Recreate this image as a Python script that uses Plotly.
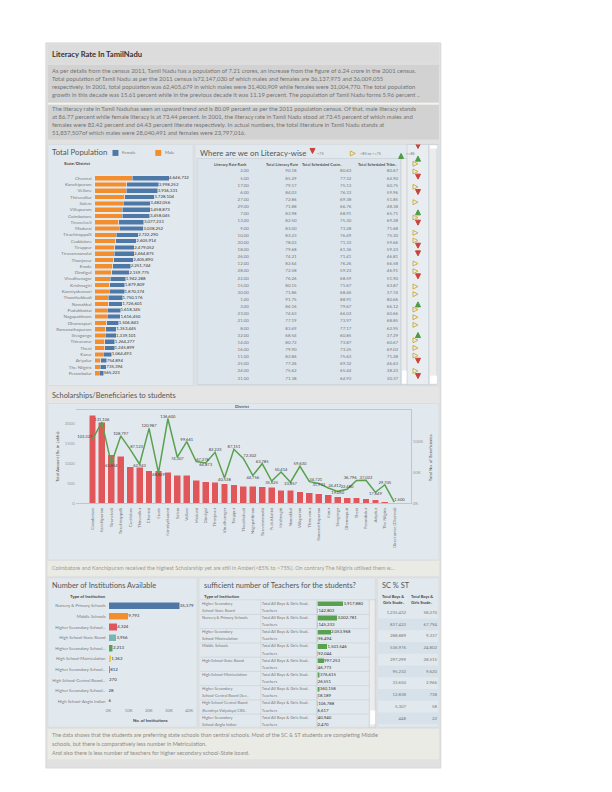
import plotly.graph_objects as go

W, H = 612, 792
def PX(x): return x / W
def PY(y): return 1 - y / H

FONT = "Lato"

# ---------------- DATA ----------------
intro_title = "Literacy Rate In TamilNadu"
para1_lines = [
    "As per details from the census 2011, Tamil Nadu has a population of 7.21 crores, an increase from the figure of 6.24 crore in the 2001 census.",
    "Total population of Tamil Nadu as per the 2011 census is72,147,030 of which males and females are 36,137,975 and 36,009,055",
    "respectively. In 2001, total population was 62,405,679 in which males were 31,400,909 while females were 31,004,770. The total population",
    "growth in this decade was 15.61 percent while in the previous decade it was 11.19 percent. The population of Tamil Nadu forms 5.96 percent ..",
]
para2_lines = [
    "The literacy rate in Tamil Naduhas seen an upward trend and is 80.09 percent as per the 2011 population census. Of that, male literacy stands",
    "at 86.77 percent while female literacy is at 73.44 percent. In 2001, the literacy rate in Tamil Nadu stood at 73.45 percent of which males and",
    "females were 82.42 percent and 64.43 percent literate respectively. In actual numbers, the total literature in Tamil Nadu stands at",
    "51,837,507of which males were 28,040,491 and females were 23,797,016.",
]

pop_districts = ["Chennai", "Kanchipuram", "Vellore", "Thiruvallur", "Salem", "Villupuram", "Coimbatore",
                 "Tirunelveli", "Madurai", "Tiruchirappalli", "Cuddalore", "Tiruppur", "Tiruvannamalai",
                 "Thanjavur", "Erode", "Dindigul", "Virudhunagar", "Krishnagiri", "Kanniyakumari",
                 "Thoothukkudi", "Namakkal", "Pudukkottai", "Nagapattinam", "Dharmapuri", "Ramanathapuram",
                 "Sivaganga", "Thiruvarur", "Theni", "Karur", "Ariyalur", "The Nilgiris", "Perambalur"]
pop_male = [2335844, 2012958, 1961688, 1876062, 1781571, 1740819, 1729297, 1520912, 1526475, 1352284,
            1311697, 1246159, 1235889, 1182416, 1129868, 1080938, 970368, 960232, 926800, 859101,
            869280, 803188, 798127, 774303, 682658, 668672, 626693, 625683, 528184, 374703, 360143, 282157]
pop_female = [2310888, 1985294, 1974643, 1852042, 1700485, 1718054, 1728748, 1556321, 1511777, 1370006,
              1294217, 1232893, 1228986, 1223474, 1121876, 1078837, 971920, 919577, 943574, 891075,
              857321, 815157, 818323, 732540, 670787, 670429, 637584, 620216, 536309, 380191, 375251, 283066]

lit_headers = ["Literacy Rate Rank", "Total Literacy Rate", "Total Scheduled Caste..", "Total Scheduled Tribe.."]
lit_rank = [2, 5, 17, 6, 27, 29, 7, 13, 9, 10, 20, 18, 26, 12, 28, 22, 15, 30, 1, 3, 23, 21, 8, 32, 14, 16,
            11, 25, 24, 31, 4, 19]
lit_total = [90.18, 85.29, 79.17, 84.03, 72.86, 71.88, 83.98, 82.50, 83.00, 83.23, 78.03, 79.68, 74.21, 82.64,
             72.58, 76.26, 80.15, 71.86, 91.75, 86.16, 74.63, 77.19, 83.69, 68.54, 80.72, 79.90, 82.86, 77.26,
             75.62, 71.38, 85.20, 78.10]
lit_sc = [80.63, 77.32, 75.13, 76.33, 69.38, 66.76, 68.91, 75.30, 73.28, 76.49, 71.33, 61.36, 71.41, 76.26,
          59.23, 68.59, 71.67, 68.46, 88.91, 79.67, 66.03, 73.97, 77.17, 60.85, 73.87, 73.25, 75.63, 69.32,
          65.44, 64.93, 77.56, 70.12]
lit_st = [80.67, 64.90, 60.75, 59.96, 51.85, 48.38, 65.71, 69.28, 71.68, 75.30, 59.66, 59.23, 46.81, 66.58,
          46.91, 51.90, 63.87, 37.74, 80.66, 66.12, 60.66, 68.85, 62.95, 37.29, 60.67, 69.03, 71.28, 46.63,
          38.23, 30.37, 61.23, 55.40]
lit_bands = ["<75", "<85 to >=75", ">=85"]
lit_arrows = ["<75", ">=85", "<85 to >=75", "<85 to >=75", "<75", "<85 to >=75", "<75", "<85 to >=75",
              ">=85", "<85 to >=75", "<75", "<85 to >=75", "<85 to >=75", "<75", "<75", "<85 to >=75",
              "<85 to >=75", "<75", "<85 to >=75", "<85 to >=75", ">=85", "<85 to >=75", "<85 to >=75",
              "<85 to >=75", ">=85", "<85 to >=75", "<85 to >=75", "<85 to >=75", "<75", "<85 to >=75", "<75"]

sch_districts = ["Coimbatore", "Kanchipuram", "Tirunelveli", "Tiruchirappalli", "Cuddalore", "Thiruvallur",
                 "Chennai", "Erode", "Kanniyakumari", "Salem", "Vellore", "Madurai", "Dindigul", "Thanjavur",
                 "Virudhunagar", "Tiruppur", "Thoothukudi", "Nagapattinam", "Tiruvannamalai", "Pudukkottai",
                 "Krishnagiri", "Namakkal", "Villupuram", "Thiruvarur", "Ramanathapuram", "Karur", "Sivaganga",
                 "Dharmapuri", "Theni", "Perambalur", "Ariyalur", "The Nilgiris", "Directorate (Chennai)"]
sch_amount = [2205, 2030, 1210, 1180, 915, 905, 812, 808, 780, 705, 700, 580, 532, 528, 486, 455, 428, 422,
              405, 398, 322, 318, 285, 262, 236, 204, 160, 136, 133, 110, 85, 35, 6]
sch_benef = [103327, 131106, 63854, 108797, 87123, 62943, 120987, 48849, 136600, 74307, 99661, 67276, 64873,
             82223, 40538, 87151, 72302, 44756, 63785, 35625, 50414, 33857, 59630, 34721, 31933, 24412, 19050,
             22480, 36796, 37022, 17649, 29705, 1500]
sch_caption = ("Coimbatore and Kanchipuram received the highest Scholarship yet are still in Amber(&lt;85% to &gt;75%). "
               "On contrary The Nilgiris utilised them w...")

inst_labels = ["Nursery & Primary Schools", "Middle Schools", "Higher Secondary School...", "High School-State Board",
               "Higher Secondary School...", "High School-Matriculation", "Higher Secondary School...",
               "High School-Central Board...", "Higher Secondary School...", "High School-Anglo Indian"]
inst_counts = [35379, 9793, 4324, 3956, 2213, 1362, 812, 270, 28, 6]
inst_ticks = [0, 10000, 20000, 30000, 40000]
inst_ticktext = ["0K", "10K", "20K", "30K", "40K"]

teach_type_lines = [["Higher Secondary", "School-State Board"], ["Nursery & Primary Schools"],
                    ["Higher Secondary", "School-Matriculation"], ["Middle Schools"], ["High School-State Board"],
                    ["High School-Matriculation"], ["Higher Secondary", "School-Central Board (Sec.."],
                    ["High School-Central Board", "(Kendriya Vidyalaya) CBS.."], ["Higher Secondary", "School-Anglo Indian"]]
teach_measures = ["Total All Boys & Girls Stud..", "Teachers"]
teach_students = [3917880, 3002781, 2053968, 1501546, 997253, 376615, 360158, 106788, 40940]
teach_teachers = [142803, 145233, 96494, 92044, 46773, 26551, 18189, 6617, 2470]

scst_headers = [["Total Boys &", "Girls Stude.."], ["Total Boys &", "Girls Stude.."]]
scst_sc = [1235432, 837422, 288889, 536976, 297299, 95232, 33650, 12838, 5307, 448]
scst_st = [58270, 67794, 9337, 24802, 28515, 9620, 2966, 738, 58, 22]

footer_lines = [
    "The data shows that the students are preferring state schools than central schools. Most of the SC & ST students are completing Middle",
    "schools, but there is comparatively less number in Metriculation.",
    "And also there is less number of teachers for higher secondary school-State board.",
]

# ---------------- STYLE ----------------
C_BLUE, C_ORANGE, C_RED, C_GREEN = "#4e79a7", "#f28e2b", "#e15759", "#59a14f"
inst_colors = ["#4e79a7", "#f28e2b", "#e15759", "#76b7b2", "#59a14f", "#edc948", "#b07aa1", "#ff9da7",
               "#9c755f", "#bab0ac"]
band_symbol = {"<75": "arrow-down", "<85 to >=75": "arrow-right-open", ">=85": "arrow-up"}
band_color = {"<75": "#c9433b", "<85 to >=75": "#d3ae45", ">=85": "#4f9a45"}
PANEL = "#e2e9ee"
TXT = "#777777"

fig = go.Figure()
shapes = []
def rect(x0, y0, x1, y1, fill, line=None, width=0.6):
    shapes.append(dict(type="rect", xref="paper", yref="paper", x0=PX(x0), x1=PX(x1), y0=PY(y1), y1=PY(y0),
                       fillcolor=fill, line=dict(color=line or fill, width=width if line else 0), layer="below"))
def hline(x0, x1, y, color="#c9d2d8", width=0.6):
    shapes.append(dict(type="line", xref="paper", yref="paper", x0=PX(x0), x1=PX(x1), y0=PY(y), y1=PY(y),
                       line=dict(color=color, width=width), layer="above"))
def vline(x, y0, y1, color="#c9d2d8", width=0.6):
    shapes.append(dict(type="line", xref="paper", yref="paper", x0=PX(x), x1=PX(x), y0=PY(y0), y1=PY(y1),
                       line=dict(color=color, width=width), layer="above"))
def txt(x, y, s, size=5, color=TXT, anchor="left", bold=False, angle=0):
    fig.add_annotation(x=PX(x), y=PY(y), xref="paper", yref="paper", text=("<b>%s</b>" % s) if bold else s,
                       showarrow=False, xanchor=anchor, yanchor="middle", textangle=angle,
                       font=dict(family=FONT, size=size, color=color), borderpad=0)
def row_range(top_px, bottom_px, first_px, step):
    return [(bottom_px - first_px) / step, (top_px - first_px) / step]

# ---------------- BACKGROUNDS ----------------
rect(35, 35, 432, 763, "#e1e1e1", "#cccccc")
rect(37, 37, 430, 56, "#dcdcdc")
rect(37, 57, 430, 95, "#d2d2d2")
rect(37, 95, 430, 97, "#f4f4ef")
rect(37, 97, 430, 132, "#d2d2d2")
rect(37, 137, 183, 379, PANEL, "#d0d7dc")
rect(185, 137, 430, 379, PANEL, "#d0d7dc")
rect(187, 151, 392, 378, "#dce5ec", "#c3cbd1")
rect(392, 151, 398, 378, "#ececec", "#c3cbd1")
rect(393, 364, 398, 377, "#ffffff")
rect(398, 137, 420, 378, "#e7edf1", "#c3cbd1")
rect(420, 137, 428, 378, "#ececec", "#c3cbd1")
rect(421, 138, 428, 141, "#ffffff")
rect(421, 369, 428, 377, "#ffffff")
rect(37, 380, 430, 397, "#e5e5e5")
rect(37, 397, 430, 554, PANEL, "#d0d7dc")
rect(37, 555, 430, 570, "#ebebe6")
rect(37, 572, 187, 722, PANEL, "#d0d7dc")
rect(189, 572, 366, 722, PANEL, "#d0d7dc")
rect(360, 594, 366, 722, "#ececec", "#c3cbd1")
rect(361, 705, 366, 719, "#ffffff")
rect(368, 572, 430, 722, PANEL, "#d0d7dc")
rect(37, 724, 430, 754, "#ebebe6")

# ---------------- HEADER TEXT ----------------
txt(40, 46.5, intro_title, size=7.6, color="#333333", bold=True)
for i, s in enumerate(para1_lines):
    txt(40, 63 + 8 * i, s, size=5.9, color="#737373")
for i, s in enumerate(para2_lines):
    txt(40, 101 + 8 * i, s, size=5.9, color="#737373")

# ---------------- TOTAL POPULATION ----------------
pop_total = [m + f for m, f in zip(pop_male, pop_female)]
fig.add_trace(go.Bar(y=pop_districts, x=pop_male, orientation="h", marker_color=C_ORANGE, width=0.74,
                     xaxis="x", yaxis="y", hoverinfo="skip"))
fig.add_trace(go.Bar(y=pop_districts, x=pop_female, orientation="h", marker_color=C_BLUE, width=0.74,
                     xaxis="x", yaxis="y", hoverinfo="skip"))
fig.add_trace(go.Scatter(y=pop_districts, x=pop_total, mode="text", text=[format(v, ",") for v in pop_total],
                         textposition="middle right", textfont=dict(family=FONT, size=4.4, color="#333"),
                         cliponaxis=False, xaxis="x", yaxis="y", hoverinfo="skip"))
txt(40, 145, "Total Population", size=7.8, color="#555555")
rect(102, 142.5, 108, 148.5, C_BLUE)
txt(111, 145.5, "Female", size=4.3, color=TXT)
rect(145, 142.5, 151, 148.5, C_ORANGE)
txt(154, 145.5, "Male", size=4.3, color=TXT)
txt(66, 156, "State/District", size=4.3, color="#444", anchor="center", bold=True)

# ---------------- LITERACY TABLE ----------------
lit_cols = [["%.2f" % v for v in lit_rank], ["%.2f" % v for v in lit_total],
            ["%.2f" % v for v in lit_sc], ["%.2f" % v for v in lit_st]]
col_right = [239, 287, 342, 389]
for c, vals in enumerate(lit_cols):
    fig.add_trace(go.Scatter(x=[col_right[c]] * len(vals), y=list(range(len(vals))), mode="text", text=vals,
                             textposition="middle left", textfont=dict(family=FONT, size=4.4, color="#777"),
                             xaxis="x2", yaxis="y2", hoverinfo="skip", cliponaxis=True))
hdr_right = [238, 289, 334, 389]
for c, h in enumerate(lit_headers):
    txt(hdr_right[c], 157, h, size=3.9, color="#555", anchor="right", bold=True)
txt(189, 146, "Where are we on Literacy-wise", size=7.8, color="#555555")

fig.add_trace(go.Scatter(x=[0.5] * len(lit_arrows), y=list(range(len(lit_arrows))), mode="markers",
                         marker=dict(symbol=[band_symbol[a] for a in lit_arrows],
                                     color=[band_color[a] for a in lit_arrows], size=5,
                                     line=dict(width=1, color=[band_color[a] for a in lit_arrows])),
                         xaxis="x3", yaxis="y3", hoverinfo="skip"))
leg_x = [303, 346, 392]
leg_tx = [307, 350, 396]
leg_text = ["&lt;75", "&lt;85 to &gt;=75", "&gt;=85"]
fig.add_trace(go.Scatter(x=leg_x, y=[146, 146, 146], mode="markers",
                         marker=dict(symbol=[band_symbol[b] for b in lit_bands],
                                     color=[band_color[b] for b in lit_bands], size=5,
                                     line=dict(width=1, color=[band_color[b] for b in lit_bands])),
                         xaxis="x10", yaxis="y10", hoverinfo="skip"))
for xx, s in zip(leg_tx, leg_text):
    txt(xx, 146.5, s, size=3.8, color=TXT)

# ---------------- SCHOLARSHIPS ----------------
SCH_X0, SCH_X1, SCH_Y0, SCH_Y1, SCH_RMAX = 65, 402, 497, 404, 150000
n = len(sch_benef)
step = (SCH_X1 - SCH_X0) / n
lab_txt = [format(v, ",") for v in sch_benef]
offsets = {"top center": (0, -5), "bottom center": (0, 5), "top right": (7, -5), "top left": (-7, -5),
           "bottom right": (7, 5), "bottom left": (-7, 5)}
placed = []
tpos = []
for i, v in enumerate(sch_benef):
    pv = sch_benef[i - 1] if i > 0 else None
    nv = sch_benef[i + 1] if i < n - 1 else None
    up_prev = pv is None or v >= pv
    up_next = nv is None or v >= nv
    if up_prev and up_next:
        pref = "top center"
    elif not up_prev and not up_next:
        pref = "bottom center"
    elif not up_prev and up_next:
        pref = "top right"
    else:
        pref = "top left"
    order = [pref] + [p for p in ["bottom center", "top center", "bottom right", "bottom left", "top right",
                                  "top left"] if p != pref]
    cx = SCH_X0 + (i + 0.5) * step
    cy = SCH_Y0 - v / SCH_RMAX * (SCH_Y0 - SCH_Y1)
    w = len(lab_txt[i]) * 2.1
    chosen = None
    for p in order:
        dx, dy = offsets[p]
        box = (cx + dx - w / 2, cy + dy - 2.5, cx + dx + w / 2, cy + dy + 2.5)
        if all(box[2] < b[0] or box[0] > b[2] or box[3] < b[1] or box[1] > b[3] for b in placed):
            chosen = (p, box)
            break
    if chosen is None:
        dx, dy = offsets[pref]
        chosen = (pref, (cx + dx - w / 2, cy + dy - 2.5, cx + dx + w / 2, cy + dy + 2.5))
    tpos.append(chosen[0])
    placed.append(chosen[1])

fig.add_trace(go.Bar(x=sch_districts, y=sch_amount, marker_color=C_RED, width=0.72, xaxis="x4", yaxis="y4",
                     hoverinfo="skip"))
fig.add_trace(go.Scatter(x=sch_districts, y=sch_benef, mode="lines+text", line=dict(color=C_GREEN, width=1.5),
                         text=lab_txt, textposition=tpos,
                         textfont=dict(family=FONT, size=4.1, color="#444"), cliponaxis=False,
                         xaxis="x4", yaxis="y5", hoverinfo="skip"))
txt(40, 388.5, "Scholarships/Beneficiaries to students", size=7.4, color="#555555")
txt(233, 400.5, "District", size=4.3, color="#555", anchor="center", bold=True)
txt(47, 451, "Total Amount (Rs. in Lakhs)", size=4.3, color="#555", anchor="center", angle=-90)
txt(421, 451, "Total No. of Beneficiaries", size=4.3, color="#555", anchor="center", angle=-90)
txt(40, 562.5, sch_caption, size=5.5, color="#9a9a9a")

# ---------------- INSTITUTIONS ----------------
fig.add_trace(go.Bar(y=list(range(len(inst_counts))), x=inst_counts, orientation="h", width=0.68,
                     marker_color=inst_colors, xaxis="x6", yaxis="y6", hoverinfo="skip"))
fig.add_trace(go.Scatter(y=list(range(len(inst_counts))), x=inst_counts, mode="text",
                         text=[format(v, ",") for v in inst_counts], textposition="middle right",
                         textfont=dict(family=FONT, size=4.4, color="#333"), cliponaxis=False,
                         xaxis="x6", yaxis="y6", hoverinfo="skip"))
txt(40, 580, "Number of Institutions Available", size=7.4, color="#555555")
txt(77, 590.5, "Type of Institution", size=4.3, color="#444", anchor="center", bold=True)
txt(140, 715, "No. of Institutions", size=4.3, color="#444", anchor="center", bold=True)

# ---------------- TEACHERS ----------------
ng = len(teach_students)
stu_rows = [2 * g for g in range(ng)]
tea_rows = [2 * g + 1 for g in range(ng)]
fig.add_trace(go.Bar(y=stu_rows, x=teach_students, orientation="h", width=0.74, marker_color=C_GREEN,
                     xaxis="x7", yaxis="y7", hoverinfo="skip"))
fig.add_trace(go.Bar(y=tea_rows, x=teach_teachers, orientation="h", width=0.74, marker_color=C_RED,
                     xaxis="x7", yaxis="y7", hoverinfo="skip"))
fig.add_trace(go.Scatter(y=stu_rows + tea_rows, x=teach_students + teach_teachers, mode="text",
                         text=[format(v, ",") for v in teach_students + teach_teachers],
                         textposition="middle right", textfont=dict(family=FONT, size=4.3, color="#333"),
                         cliponaxis=True, xaxis="x7", yaxis="y7", hoverinfo="skip"))
type_x, type_y, type_t = [], [], []
for g, lines in enumerate(teach_type_lines):
    for k, s in enumerate(lines):
        type_x.append(192)
        type_y.append(2 * g + k)
        type_t.append(s)
fig.add_trace(go.Scatter(x=type_x, y=type_y, mode="text", text=type_t, textposition="middle right",
                         textfont=dict(family=FONT, size=3.9, color="#777"), xaxis="x8", yaxis="y8",
                         hoverinfo="skip", cliponaxis=True))
meas_y = [r for g in range(ng) for r in (2 * g, 2 * g + 1)]
meas_t = [teach_measures[r % 2] for r in meas_y]
fig.add_trace(go.Scatter(x=[252] * len(meas_y), y=meas_y, mode="text", text=meas_t, textposition="middle right",
                         textfont=dict(family=FONT, size=4.0, color="#777"), xaxis="x8", yaxis="y8",
                         hoverinfo="skip", cliponaxis=True))
for g in range(1, ng):
    shapes.append(dict(type="line", xref="x8", yref="y8", x0=190, x1=360, y0=2 * g - 0.5, y1=2 * g - 0.5,
                       line=dict(color="#c5ced5", width=0.6), layer="above"))
vline(251, 594, 722)
vline(307, 594, 722)
hline(189, 360, 594)
txt(193, 580, "sufficient number of Teachers for the students?", size=7.4, color="#555555")
txt(193, 590.5, "Type of Institution", size=4.3, color="#444", bold=True)

# ---------------- SC % ST ----------------
for r in range(len(scst_sc)):
    if r % 2 == 1:
        shapes.append(dict(type="rect", xref="paper", yref="y9", x0=PX(368), x1=PX(430), y0=r - 0.5, y1=r + 0.5,
                           fillcolor="#d7e1e9", line=dict(width=0), layer="below"))
fig.add_trace(go.Scatter(x=[397] * len(scst_sc), y=list(range(len(scst_sc))), mode="text",
                         text=[format(v, ",") for v in scst_sc], textposition="middle left",
                         textfont=dict(family=FONT, size=4.3, color="#777"), xaxis="x9", yaxis="y9", hoverinfo="skip"))
fig.add_trace(go.Scatter(x=[428] * len(scst_st), y=list(range(len(scst_st))), mode="text",
                         text=[format(v, ",") for v in scst_st], textposition="middle left",
                         textfont=dict(family=FONT, size=4.3, color="#777"), xaxis="x9", yaxis="y9", hoverinfo="skip"))
txt(372, 580, "SC % ST", size=7.4, color="#555555")
for cx, hl in zip([384, 413], scst_headers):
    for k, s in enumerate(hl):
        txt(cx, 591 + 6 * k, s, size=4.0, color="#444", anchor="center", bold=True)

for i, s in enumerate(footer_lines):
    txt(40, 730 + 9 * i, s, size=5.5, color="#8a8a8a")

# ---------------- AXES ----------------
def hid(domain, rng, anchor):
    return dict(domain=domain, range=rng, visible=False, fixedrange=True, anchor=anchor)

lay = dict(
    width=W, height=H, margin=dict(l=0, r=0, t=0, b=0), paper_bgcolor="white", plot_bgcolor="rgba(0,0,0,0)",
    showlegend=False, barmode="stack", font=dict(family=FONT), shapes=shapes, hovermode=False,
    xaxis=hid([PX(84), PX(179)], [0, 5.9e6], "y"),
    yaxis=dict(domain=[PY(377.5), PY(160)], type="category", categoryorder="array", categoryarray=pop_districts,
               autorange="reversed", showgrid=False, zeroline=False, showline=False, ticks="",
               tickfont=dict(family=FONT, size=4.6, color="#7a7a7a"), ticklabelstandoff=2, anchor="x",
               fixedrange=True),
    xaxis2=hid([PX(187), PX(398)], [187, 398], "y2"),
    yaxis2=hid([PY(377), PY(160)], row_range(160, 377, 164, 7.17), "x2"),
    xaxis3=hid([PX(398), PX(420)], [0, 1], "y3"),
    yaxis3=hid([PY(379), PY(137)], row_range(137, 379, 141, 7.7), "x3"),
    xaxis4=dict(domain=[PX(SCH_X0), PX(SCH_X1)], type="category", tickangle=-90, ticks="", showgrid=False,
                tickfont=dict(family=FONT, size=4.3, color="#777"), showline=True, linecolor="#c5c5c5",
                linewidth=0.7, mirror=True, anchor="y4", fixedrange=True, ticklabelstandoff=2),
    yaxis4=dict(domain=[PY(SCH_Y0), PY(SCH_Y1)], range=[0, 2325], tickvals=[0, 500, 1000, 1500, 2000],
                ticktext=["0", "500", "1000", "1500", "2000"], showgrid=False, zeroline=False, ticks="",
                tickfont=dict(family=FONT, size=4.3, color="#999"), anchor="x4", fixedrange=True),
    yaxis5=dict(domain=[PY(SCH_Y0), PY(SCH_Y1)], range=[0, SCH_RMAX], overlaying="y4", side="right",
                tickvals=[0, 50000, 100000], ticktext=["0K", "50K", "100K"], showgrid=False, zeroline=False,
                ticks="", showline=True, linecolor="#c5c5c5", linewidth=0.7,
                tickfont=dict(family=FONT, size=4.3, color="#999"), anchor="x4", fixedrange=True),
    xaxis6=dict(domain=[PX(98), PX(183)], range=[0, 42000], tickvals=inst_ticks, ticktext=inst_ticktext,
                showgrid=False, zeroline=False, ticks="", tickfont=dict(family=FONT, size=4.3, color="#888"),
                anchor="y6", fixedrange=True),
    yaxis6=dict(domain=[PY(701.3), PY(594.7)], range=[9.5, -0.5], tickvals=list(range(len(inst_labels))),
                ticktext=inst_labels, showgrid=False, zeroline=False, ticks="", ticklabelstandoff=2,
                tickfont=dict(family=FONT, size=4.3, color="#7a7a7a"), anchor="x6", fixedrange=True),
    xaxis7=hid([PX(308), PX(360)], [0, 7.8e6], "y7"),
    yaxis7=hid([PY(722), PY(594)], row_range(594, 722, 598, 7.15), "x7"),
    xaxis8=hid([PX(190), PX(366)], [190, 366], "y8"),
    yaxis8=hid([PY(722), PY(594)], row_range(594, 722, 598, 7.15), "x8"),
    xaxis9=hid([PX(368), PX(430)], [368, 430], "y9"),
    yaxis9=hid([PY(722), PY(601)], row_range(601, 722, 607, 11.8), "x9"),
    xaxis10=hid([0, 1], [0, W], "y10"),
    yaxis10=hid([0, 1], [H, 0], "x10"),
)
fig.update_layout(**lay)
fig.write_html("out.html")
